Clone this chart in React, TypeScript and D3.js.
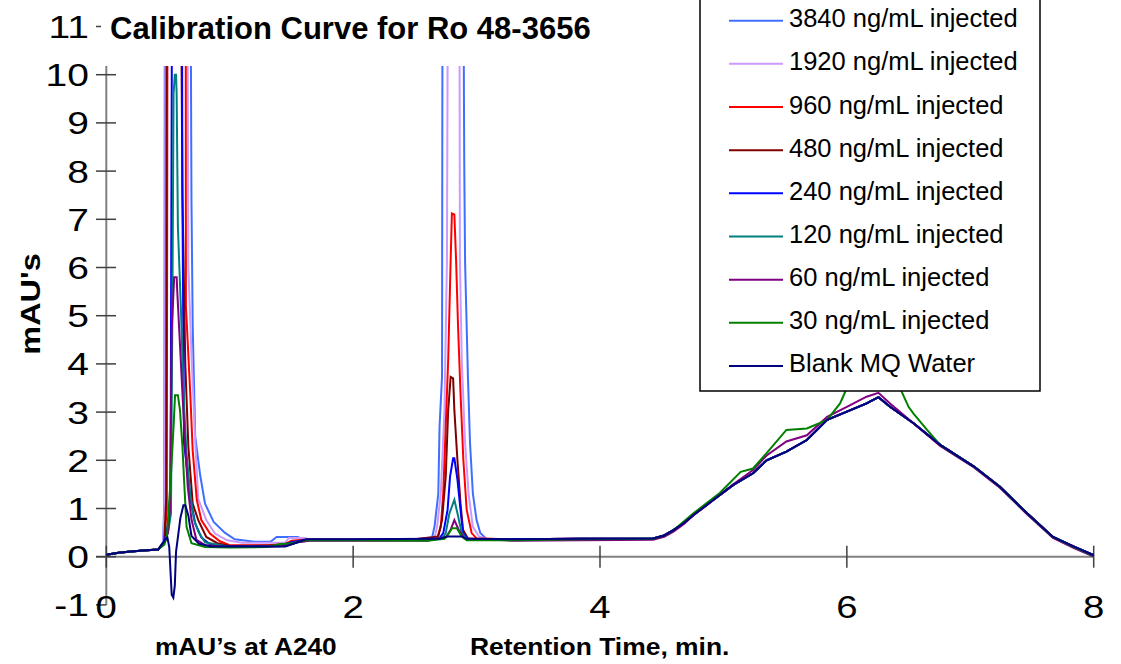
import React, { useEffect, useRef } from 'react';
import * as d3 from 'd3';

type Pt = [number, number];

// legend order (also draw order, blank ends up on top)
const seriesNames = [
  '3840 ng/mL injected',
  '1920 ng/mL injected',
  '960 ng/mL injected',
  '480 ng/mL injected',
  '240 ng/mL injected',
  '120 ng/mL injected',
  '60 ng/mL injected',
  '30 ng/mL injected',
  'Blank MQ Water',
];
const seriesColors = ['#3f6fff', '#cc99ff', '#ff0000', '#800000', '#0000ff', '#008080', '#800080', '#008000', '#000080'];

// [retention time (min), mAU] - values above 10 are off scale in the original
const early3840: Pt[] = [
  [0, 0.04], [0.1, 0.08], [0.2, 0.11], [0.3, 0.13], [0.42, 0.15], [0.46, 0.3], [0.47, 1.1], [0.475, 14],
  [0.68, 14], [0.69, 7.4], [0.7, 4.8], [0.72, 2.5], [0.76, 1.7], [0.8, 1.1], [0.87, 0.72], [0.96, 0.5],
  [1.04, 0.36], [1.2, 0.31], [1.33, 0.31], [1.38, 0.41], [1.55, 0.41], [1.6, 0.36], [2.0, 0.35], [2.5, 0.36],
  [2.64, 0.4], [2.66, 0.64], [2.69, 1.31], [2.7, 2.7], [2.72, 3.73], [2.725, 14], [2.89, 14], [2.9, 8.2],
  [2.907, 6.1], [2.93, 3.73], [2.947, 2.35], [2.97, 1.31], [3.0, 0.76], [3.03, 0.49], [3.08, 0.37], [3.3, 0.36],
];
const early1920: Pt[] = [
  [0, 0.04], [0.1, 0.08], [0.2, 0.11], [0.3, 0.13], [0.42, 0.15], [0.46, 0.3], [0.475, 1.2], [0.48, 14],
  [0.655, 14], [0.665, 6], [0.69, 4.2], [0.72, 2.4], [0.745, 1.2], [0.81, 0.76], [0.88, 0.48], [0.98, 0.34],
  [1.1, 0.29], [1.45, 0.29], [1.48, 0.39], [1.6, 0.39], [1.65, 0.36], [2.0, 0.35], [2.5, 0.36], [2.66, 0.4],
  [2.68, 0.62], [2.71, 1.31], [2.74, 3.04], [2.76, 6.15], [2.77, 14], [2.86, 14], [2.865, 6.15], [2.88, 4.08],
  [2.907, 2.35], [2.935, 1.31], [2.97, 0.62], [3.02, 0.42], [3.1, 0.36], [3.3, 0.36],
];
const early960: Pt[] = [
  [0, 0.04], [0.1, 0.08], [0.2, 0.11], [0.3, 0.13], [0.42, 0.15], [0.47, 0.3], [0.49, 1.0], [0.497, 14],
  [0.643, 14], [0.645, 5.2], [0.68, 3.4], [0.7, 2.2], [0.733, 1.18], [0.77, 0.76], [0.84, 0.48], [0.92, 0.32],
  [1.0, 0.24], [1.3, 0.24], [1.45, 0.26], [1.5, 0.33], [1.6, 0.35], [2.0, 0.35], [2.5, 0.36], [2.68, 0.38],
  [2.71, 0.62], [2.73, 1.31], [2.75, 2.7], [2.77, 4.08], [2.79, 6.15], [2.8, 7.12], [2.82, 7.1], [2.834, 6.15],
  [2.85, 4.77], [2.87, 3.38], [2.893, 2.0], [2.92, 0.97], [2.96, 0.49], [3.0, 0.38], [3.3, 0.36],
];
const early480: Pt[] = [
  [0, 0.04], [0.1, 0.08], [0.2, 0.11], [0.3, 0.13], [0.42, 0.15], [0.47, 0.3], [0.485, 1.2], [0.49, 14],
  [0.6, 14], [0.617, 7.5], [0.64, 4.0], [0.665, 2.28], [0.7, 1.1], [0.745, 0.76], [0.81, 0.41], [0.9, 0.28],
  [1.0, 0.22], [1.4, 0.23], [1.5, 0.3], [1.62, 0.35], [2.0, 0.35], [2.5, 0.36], [2.69, 0.42], [2.72, 0.76],
  [2.75, 1.66], [2.77, 3.04], [2.79, 3.73], [2.81, 3.7], [2.82, 3.04], [2.845, 2.0], [2.87, 1.1], [2.89, 0.56],
  [2.93, 0.38], [3.3, 0.36],
];
const early240: Pt[] = [
  [0, 0.04], [0.1, 0.08], [0.2, 0.11], [0.3, 0.13], [0.42, 0.15], [0.47, 0.3], [0.52, 0.9], [0.535, 14],
  [0.612, 14], [0.616, 7.75], [0.63, 2.35], [0.665, 1.59], [0.684, 1.18], [0.72, 0.69], [0.77, 0.4], [0.84, 0.26],
  [1.0, 0.21], [1.4, 0.22], [1.5, 0.3], [1.62, 0.35], [2.0, 0.35], [2.5, 0.36], [2.7, 0.38], [2.73, 0.49],
  [2.765, 0.97], [2.785, 1.66], [2.81, 2.04], [2.82, 2.04], [2.845, 1.6], [2.87, 0.97], [2.89, 0.49], [2.93, 0.37],
  [3.3, 0.36],
];
const early120: Pt[] = [
  [0, 0.04], [0.1, 0.08], [0.2, 0.11], [0.3, 0.13], [0.42, 0.15], [0.47, 0.3], [0.5, 0.5], [0.524, 0.9],
  [0.535, 5], [0.545, 9.6], [0.555, 10.0], [0.565, 10.0], [0.57, 9.6], [0.58, 6.85], [0.605, 5.1], [0.615, 4.3],
  [0.632, 3.04], [0.65, 2.15], [0.68, 1.3], [0.71, 0.77], [0.75, 0.5], [0.8, 0.3], [1.0, 0.2], [1.45, 0.22],
  [1.55, 0.3], [1.65, 0.34], [2.0, 0.34], [2.5, 0.35], [2.72, 0.37], [2.75, 0.49], [2.78, 0.9], [2.82, 1.18],
  [2.845, 0.9], [2.88, 0.49], [2.92, 0.37], [3.3, 0.35],
];
const early60: Pt[] = [
  [0, 0.04], [0.1, 0.08], [0.2, 0.11], [0.3, 0.13], [0.42, 0.15], [0.47, 0.28], [0.5, 0.5], [0.516, 1.0],
  [0.53, 4.7], [0.55, 5.8], [0.57, 5.8], [0.575, 5.5], [0.597, 4.4], [0.617, 3.38], [0.638, 2.35], [0.66, 1.45],
  [0.69, 0.77], [0.73, 0.35], [0.8, 0.24], [1.0, 0.2], [1.45, 0.22], [1.55, 0.3], [1.65, 0.33], [2.0, 0.33],
  [2.6, 0.33], [2.75, 0.4], [2.79, 0.56], [2.82, 0.76], [2.855, 0.56], [2.9, 0.38], [3.3, 0.33],
];
const early30: Pt[] = [
  [0, 0.04], [0.1, 0.08], [0.2, 0.11], [0.3, 0.13], [0.42, 0.15], [0.47, 0.25], [0.49, 0.4], [0.524, 1.7],
  [0.545, 2.7], [0.557, 3.35], [0.58, 3.35], [0.597, 3.04], [0.617, 2.28], [0.63, 1.59], [0.65, 0.62], [0.69, 0.28],
  [0.8, 0.2], [1.0, 0.19], [1.3, 0.2], [1.4, 0.26], [1.5, 0.28], [1.62, 0.34], [2.0, 0.34], [2.6, 0.33],
  [2.74, 0.37], [2.76, 0.42], [2.8, 0.59], [2.84, 0.59], [2.88, 0.42], [2.92, 0.34], [3.3, 0.34],
];
const earlyBlank: Pt[] = [
  [0, 0.04], [0.1, 0.08], [0.2, 0.11], [0.3, 0.13], [0.42, 0.15], [0.475, 0.35], [0.495, 0.4], [0.51, 0.2],
  [0.53, -0.79], [0.543, -0.85], [0.555, -0.6], [0.565, 0.1], [0.6, 0.8], [0.625, 1.07], [0.64, 1.07], [0.665, 0.85],
  [0.69, 0.43], [0.75, 0.27], [0.85, 0.21], [1.45, 0.21], [1.55, 0.3], [1.62, 0.36], [2.0, 0.36], [2.7, 0.37],
  [2.76, 0.42], [2.88, 0.42], [2.92, 0.37], [3.3, 0.36],
];

// broad late hump, nearly identical for every injection
const humpCommon: Pt[] = [
  [3.84, 0.37], [4.43, 0.38], [4.52, 0.44], [4.595, 0.55], [4.68, 0.7], [4.757, 0.865], [4.92, 1.18], [5.08, 1.49],
  [5.24, 1.73], [5.35, 2.0], [5.51, 2.18], [5.676, 2.42], [5.84, 2.84], [6.0, 3.01], [6.16, 3.18], [6.256, 3.31],
  [6.35, 3.11], [6.54, 2.77], [6.756, 2.32], [7.03, 1.87], [7.24, 1.45], [7.46, 0.9], [7.67, 0.41], [7.84, 0.21],
  [8.0, 0.03],
];
const humpPurple: Pt[] = [
  [3.84, 0.34], [4.43, 0.35], [4.52, 0.41], [4.595, 0.52], [4.68, 0.68], [4.757, 0.86], [4.92, 1.18], [5.08, 1.5],
  [5.24, 1.8], [5.35, 2.1], [5.51, 2.39], [5.676, 2.52], [5.84, 2.9], [6.0, 3.11], [6.16, 3.32], [6.256, 3.4],
  [6.35, 3.18], [6.54, 2.77], [6.756, 2.3], [7.03, 1.85], [7.24, 1.43], [7.46, 0.88], [7.67, 0.39], [7.84, 0.18],
  [8.0, 0.0],
];
const humpGreen: Pt[] = [
  [3.84, 0.36], [4.43, 0.37], [4.52, 0.44], [4.595, 0.55], [4.757, 0.9], [4.97, 1.32], [5.14, 1.76], [5.24, 1.83],
  [5.35, 2.15], [5.51, 2.63], [5.676, 2.66], [5.84, 2.84], [5.945, 3.18], [6.0, 3.5], [6.1, 3.9], [6.2, 4.05],
  [6.3, 3.95], [6.4, 3.7], [6.445, 3.42], [6.5, 3.11], [6.54, 2.97], [6.65, 2.63], [6.756, 2.32], [7.03, 1.87],
  [7.24, 1.45], [7.46, 0.9], [7.67, 0.41], [7.84, 0.2], [8.0, 0.02],
];

const seriesData: Pt[][] = [
  early3840.concat(humpCommon),
  early1920.concat(humpCommon),
  early960.concat(humpCommon),
  early480.concat(humpCommon),
  early240.concat(humpCommon),
  early120.concat(humpCommon),
  early60.concat(humpPurple),
  early30.concat(humpGreen),
  earlyBlank.concat(humpCommon),
];

const xTicks = [0, 2, 4, 6, 8];
const yTicks = [-1, 0, 1, 2, 3, 4, 5, 6, 7, 8, 9, 10, 11];

const App = () => {
  const svgRef = useRef<SVGSVGElement>(null);

  useEffect(() => {
    const svg = d3.select(svgRef.current);
    svg.selectAll('*').remove();

    const font = '"Liberation Sans", Arial, sans-serif';
    const xScale = d3.scaleLinear().domain([0, 8]).range([106.3, 1093.7]);
    const yScale = d3.scaleLinear().domain([-1, 11]).range([604.9, 26.5]);
    const plotTop = 66;

    // the original text is stretched sideways, so draw it at (x,y) with a horizontal scale
    const addText = (x: number, y: number, sx: number, str: string, size: number, bold = false, anchor = 'start') =>
      svg.append('text')
        .attr('transform', `translate(${x},${y}) scale(${sx},1)`)
        .attr('text-anchor', anchor)
        .attr('font-family', font).attr('font-size', size)
        .attr('font-weight', bold ? 'bold' : 'normal')
        .text(str);

    // clip the off-scale peaks at the top of the plot area
    svg.append('defs').append('clipPath').attr('id', 'plot-clip')
      .append('rect')
      .attr('x', 90).attr('y', plotTop)
      .attr('width', 1030).attr('height', 600);

    // Axes
    svg.append('line')
      .attr('x1', xScale(0)).attr('x2', xScale(0))
      .attr('y1', plotTop).attr('y2', yScale(-1))
      .attr('stroke', '#808080').attr('stroke-width', 2);
    svg.append('line')
      .attr('x1', 96).attr('x2', xScale(8))
      .attr('y1', yScale(0)).attr('y2', yScale(0))
      .attr('stroke', '#808080').attr('stroke-width', 2);

    yTicks.forEach(v => {
      const y = yScale(v);
      const x2 = v === 11 ? 101 : v === -1 ? xScale(0) : 116;
      svg.append('line')
        .attr('x1', 96).attr('x2', x2)
        .attr('y1', y).attr('y2', y)
        .attr('stroke', '#404040').attr('stroke-width', 1.5);
      addText(89, y + 11.5, 1.22, String(v), 32, false, 'end');
    });

    xTicks.forEach(t => {
      const x = xScale(t);
      svg.append('line')
        .attr('x1', x).attr('x2', x)
        .attr('y1', yScale(0) - 11).attr('y2', yScale(0) + 11)
        .attr('stroke', '#404040').attr('stroke-width', 1.5);
      addText(x, 618, 1.2, String(t), 32, false, 'middle');
    });

    // Traces
    const line = d3.line<Pt>()
      .x(d => xScale(d[0]))
      .y(d => yScale(d[1]));

    svg.append('g')
      .attr('clip-path', 'url(#plot-clip)')
      .selectAll('path')
      .data(seriesData)
      .join('path')
      .attr('fill', 'none')
      .attr('stroke', (_, i) => seriesColors[i])
      .attr('stroke-width', 2)
      .attr('d', d => line(d));

    // Titles
    addText(110, 39, 1.0, 'Calibration Curve for Ro 48-3656', 31, true);
    addText(155, 655, 1.14, 'mAU\u2019s at A240', 23, true);
    addText(470, 655, 1.15, 'Retention Time, min.', 23, true);

    svg.append('text')
      .attr('transform', 'translate(40,304) rotate(-90) scale(1.2,1)')
      .attr('text-anchor', 'middle')
      .attr('font-family', font).attr('font-size', 27).attr('font-weight', 'bold')
      .text("mAU's");

    // Legend
    const legend = svg.append('g');
    legend.append('rect')
      .attr('x', 700).attr('y', -5)
      .attr('width', 340).attr('height', 396)
      .attr('fill', 'white').attr('stroke', 'black').attr('stroke-width', 1.5);

    seriesNames.forEach((name, i) => {
      const y = 20.7 + i * 43.16;
      legend.append('line')
        .attr('x1', 729).attr('x2', 783)
        .attr('y1', y).attr('y2', y)
        .attr('stroke', seriesColors[i]).attr('stroke-width', 2);
      legend.append('text')
        .attr('x', 789).attr('y', y + 6.5)
        .attr('font-family', font).attr('font-size', 25.5)
        .text(name);
    });
  }, []);

  return (
    <div style={{ position: 'absolute', left: 0, top: 0 }}>
      <svg ref={svgRef} width={1121} height={664} style={{ display: 'block', background: 'white' }}></svg>
    </div>
  );
};

export default App;
